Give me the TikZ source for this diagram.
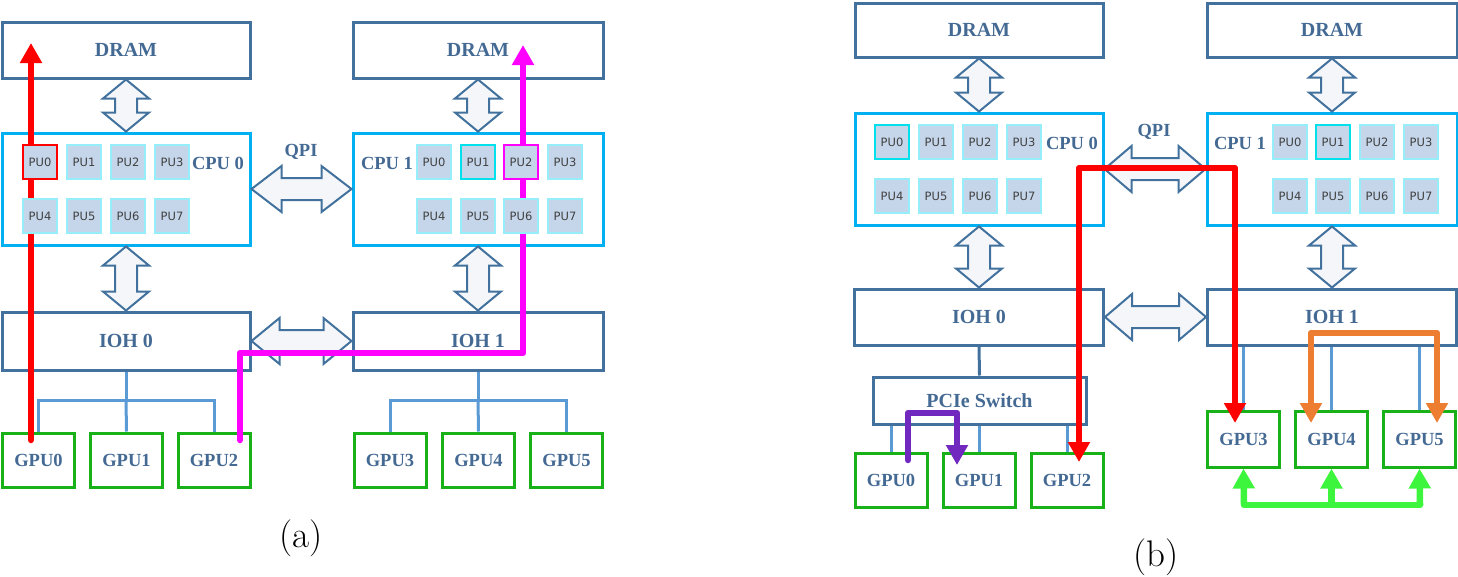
\documentclass[tikz,border=0pt]{standalone}
\usepackage{fontspec}
\newfontfamily\tnr{Liberation Serif}
\newfontfamily\puf{DejaVu Sans}
\usetikzlibrary{arrows.meta,calc}
\definecolor{boxb}{RGB}{65,113,156}
\definecolor{txtb}{RGB}{68,106,148}
\definecolor{cpub}{RGB}{0,176,240}
\definecolor{gpug}{RGB}{24,178,24}
\definecolor{treeb}{RGB}{91,155,213}
\definecolor{pufill}{RGB}{198,214,234}
\definecolor{pubord}{RGB}{150,238,250}
\definecolor{cyanh}{RGB}{0,225,235}
\definecolor{pathred}{RGB}{255,0,0}
\definecolor{pathmag}{RGB}{255,0,255}
\definecolor{pathpur}{RGB}{112,40,190}
\definecolor{pathor}{RGB}{237,125,49}
\definecolor{pathgr}{RGB}{60,245,60}
\definecolor{arrfill}{RGB}{244,246,250}
\tikzset{
 big/.style={draw=boxb, line width=3pt, fill=white, inner sep=0pt, text=txtb, font=\tnr\bfseries\fontsize{20}{24}\selectfont},
 cpubox/.style={draw=cpub, line width=3pt, fill=white, inner sep=0pt},
 gpubox/.style={draw=gpug, line width=3pt, fill=white, inner sep=0pt, text=txtb, minimum width=72pt, minimum height=54pt, font=\tnr\bfseries\fontsize{18.5}{22}\selectfont},
 pu/.style={draw=pubord, line width=1.3pt, fill=pufill, minimum size=34pt, inner sep=0pt, text=black!75, font=\puf\fontsize{11.5}{13}\selectfont},
 plain/.style={},
 hlred/.style={draw=pathred, line width=2pt},
 hlmag/.style={draw=pathmag, line width=2pt},
 hlcyan/.style={draw=cyanh, line width=2.2pt},
 lbl/.style={text=txtb, font=\tnr\bfseries\fontsize{18.5}{22}\selectfont, inner sep=0pt},
 blockarrow/.style={draw=boxb, line width=2pt, fill=arrfill, line join=miter},
 tree/.style={draw=treeb, line width=3pt},
 route/.style={line width=6.5pt, line join=round},
 tipend/.style={-{Triangle[width=21pt,length=20pt]}},
 tipboth/.style={{Triangle[width=21pt,length=20pt]}-{Triangle[width=21pt,length=20pt]}},
 capt/.style={font=\fontsize{37}{40}\selectfont, inner sep=0pt, anchor=base},
}
\newcommand\vblock[2]{\draw[blockarrow] (#1) -- ++(23,19) -- ++(-12,0) -- ($(#2)+(11,-19)$) -- ++(12,0) -- (#2) -- ++(-23,-19) -- ++(12,0) -- ($(#1)+(-11,19)$) -- ++(-12,0) -- cycle;}
\newcommand\hblock[3]{\draw[blockarrow] (#1) -- ++(#3,-23) -- ++(0,12) -- ($(#2)+(-#3,-11)$) -- ++(0,-12) -- (#2) -- ++(-#3,23) -- ++(0,-12) -- ($(#1)+(#3,11)$) -- ++(0,12) -- cycle;}
\begin{document}
\begin{tikzpicture}[x=1pt,y=-1pt]
\useasboundingbox (0,0) rectangle (1458,576);
% ---------------- panel (a) ----------------
\node[big, minimum width=248pt, minimum height=56pt] (dramA0) at (126,50) {DRAM};
\node[big, minimum width=250pt, minimum height=56pt] (dramA1) at (478,50) {DRAM};
\node[cpubox, minimum width=248pt, minimum height=112pt] (cpuA0) at (126,189) {};
\node[cpubox, minimum width=250pt, minimum height=112pt] (cpuA1) at (478,189) {};
\node[big, minimum width=248pt, minimum height=58pt] (iohA0) at (126,341) {IOH 0};
\node[big, minimum width=250pt, minimum height=58pt] (iohA1) at (478,341) {IOH 1};
\node[gpubox] (gpuA0) at (38.5,460) {GPU0};
\node[gpubox] (gpuA1) at (126.5,460) {GPU1};
\node[gpubox] (gpuA2) at (214,460) {GPU2};
\node[gpubox] (gpuA3) at (390,460) {GPU3};
\node[gpubox] (gpuA4) at (478.5,460) {GPU4};
\node[gpubox] (gpuA5) at (566.5,460) {GPU5};
\vblock{dramA0.south}{cpuA0.north}
\vblock{dramA1.south}{cpuA1.north}
\vblock{cpuA0.south}{iohA0.north}
\vblock{cpuA1.south}{iohA1.north}
\hblock{cpuA0.east}{cpuA1.west}{30}
\hblock{iohA0.east}{iohA1.west}{28}
\node[lbl] (qpiA) at (301,152) {QPI};
\coordinate (busA0) at (126,400);
\coordinate (busA1) at (478,400);
\draw[tree] (iohA0.south) -- (busA0);
\draw[tree] (busA0) -| (gpuA0.north);
\draw[tree] (busA0) -| (gpuA2.north);
\draw[tree] (busA0) -- (gpuA1.north);
\draw[tree] (iohA1.south) -- (busA1);
\draw[tree] (busA1) -| (gpuA3.north);
\draw[tree] (busA1) -| (gpuA5.north);
\draw[tree] (busA1) -- (gpuA4.north);
% routes (a)
\coordinate (ra0) at (31,440);
\coordinate (ra1) at (31,43);
\draw[route, pathred, line cap=round, tipend] (ra0) -- (ra1);
\coordinate (ma0) at (240,440);
\coordinate (ma1) at (240,353);
\coordinate (ma2) at (523,353);
\coordinate (ma3) at (523,45);
\draw[route, pathmag, line cap=round, tipend] (ma0) -- (ma1) -- (ma2) -- (ma3);
% PUs (a)
\foreach \i/\x/\s in {0/40/hlred,1/84/plain,2/128/plain,3/172/plain}{
  \pgfmathtruncatemacro\j{\i+4}
  \node[pu,\s] (paa\i) at (\x,162) {PU\i};
  \node[pu] (paa\j) at (\x,216) {PU\j};
}
\foreach \i/\x/\s in {0/434/plain,1/478/hlcyan,2/521/hlmag,3/565/plain}{
  \pgfmathtruncatemacro\j{\i+4}
  \node[pu,\s] (pab\i) at (\x,162) {PU\i};
  \node[pu] (pab\j) at (\x,216) {PU\j};
}
\node[lbl] (cpuA0l) at (218,163) {CPU 0};
\node[lbl] (cpuA1l) at (387,163) {CPU 1};
\node[capt] (captA) at (301,547) {(a)};
% ---------------- panel (b) ----------------
\node[big, minimum width=248pt, minimum height=54pt] (dramB0) at (979,30) {DRAM};
\node[big, minimum width=250pt, minimum height=54pt] (dramB1) at (1332,30) {DRAM};
\node[cpubox, minimum width=248pt, minimum height=112pt] (cpuB0) at (979,169) {};
\node[cpubox, minimum width=250pt, minimum height=112pt] (cpuB1) at (1332,169) {};
\node[big, minimum width=249pt, minimum height=56pt] (iohB0) at (979,317) {IOH 0};
\node[big, minimum width=249pt, minimum height=56pt] (iohB1) at (1332,317) {IOH 1};
\node[big, minimum width=213pt, minimum height=47pt] (pcie) at (979.5,400.5) {PCIe Switch};
\node[gpubox] (gpuB0) at (891,480) {GPU0};
\node[gpubox] (gpuB1) at (979,480) {GPU1};
\node[gpubox] (gpuB2) at (1067,480) {GPU2};
\node[gpubox, minimum height=56pt] (gpuB3) at (1243.5,439) {GPU3};
\node[gpubox, minimum height=56pt] (gpuB4) at (1331.5,439) {GPU4};
\node[gpubox, minimum height=56pt] (gpuB5) at (1419.5,439) {GPU5};
\vblock{dramB0.south}{cpuB0.north}
\vblock{dramB1.south}{cpuB1.north}
\vblock{cpuB0.south}{iohB0.north}
\vblock{cpuB1.south}{iohB1.north}
\hblock{cpuB0.east}{cpuB1.west}{27}
\hblock{iohB0.east}{iohB1.west}{27}
\node[lbl] (qpiB) at (1154,132) {QPI};
\draw[draw=boxb, line width=3pt] (iohB0.south) -- (pcie.north);
\draw[tree] (pcie.south -| gpuB0.north) -- (gpuB0.north);
\draw[tree] (pcie.south -| gpuB1.north) -- (gpuB1.north);
\draw[tree] (pcie.south -| gpuB2.north) -- (gpuB2.north);
\draw[tree] (iohB1.south -| gpuB3.north) -- (gpuB3.north);
\draw[tree] (iohB1.south -| gpuB4.north) -- (gpuB4.north);
\draw[tree] (iohB1.south -| gpuB5.north) -- (gpuB5.north);
% routes (b)
\coordinate (rb0) at (1079,462);
\coordinate (rb1) at (1079,168);
\coordinate (rb2) at (1235,168);
\coordinate (rb3) at (1235,423);
\draw[route, pathred, tipboth] (rb0) -- (rb1) -- (rb2) -- (rb3);
\coordinate (pb0) at (908,460);
\coordinate (pb1) at (908,413);
\coordinate (pb2) at (957,413);
\coordinate (pb3) at (957,465);
\draw[route, pathpur, line cap=round, tipend] (pb0) -- (pb1) -- (pb2) -- (pb3);
\coordinate (ob0) at (1311,423);
\coordinate (ob1) at (1311,333);
\coordinate (ob2) at (1437,333);
\coordinate (ob3) at (1437,423);
\draw[route, pathor, tipboth] (ob0) -- (ob1) -- (ob2) -- (ob3);
\coordinate (gb0) at (1244,505);
\coordinate (gb1) at (1420,505);
\draw[route, pathgr, line cap=round] (gb0) -- (gb1);
\draw[route, pathgr, tipend] (gb0) -- (gpuB3.south);
\draw[route, pathgr, tipend] (gpuB4.south |- gb0) -- (gpuB4.south);
\draw[route, pathgr, tipend] (gb1) -- (gpuB5.south);
% PUs (b)
\foreach \i/\x/\s in {0/892/hlcyan,1/936/plain,2/980/plain,3/1024/plain}{
  \pgfmathtruncatemacro\j{\i+4}
  \node[pu,\s] (pba\i) at (\x,142) {PU\i};
  \node[pu] (pba\j) at (\x,196) {PU\j};
}
\foreach \i/\x/\s in {0/1290/plain,1/1333/hlcyan,2/1377/plain,3/1421/plain}{
  \pgfmathtruncatemacro\j{\i+4}
  \node[pu,\s] (pbb\i) at (\x,142) {PU\i};
  \node[pu] (pbb\j) at (\x,196) {PU\j};
}
\node[lbl] (cpuB0l) at (1072,143) {CPU 0};
\node[lbl] (cpuB1l) at (1240,143) {CPU 1};
\node[capt] (captB) at (1156,566) {(b)};
\end{tikzpicture}
\end{document}
